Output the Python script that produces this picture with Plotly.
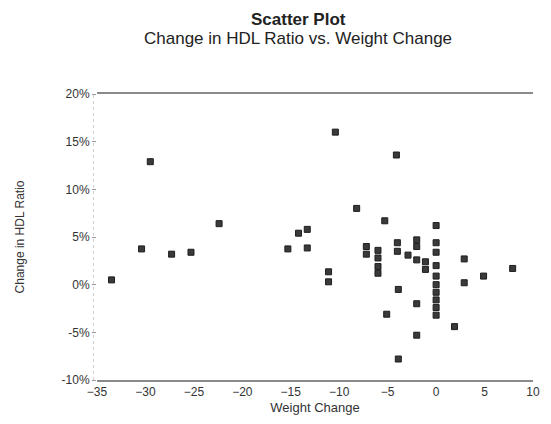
import plotly.graph_objects as go

weight_change = [-33.5, -30.4, -29.5, -27.3, -25.3, -22.4, -15.3, -14.2, -13.3, -13.3,
                 -11.1, -11.1, -10.4, -8.2, -7.2, -7.2, -6.0, -6.0, -6.0, -6.0,
                 -5.3, -5.1, -4.1, -4.0, -4.0, -3.9, -3.9, -2.9, -2.0, -2.0,
                 -2.0, -2.0, -2.0, -1.1, -1.1, 0.0, 0.0, 0.0, 0.0, 0.0,
                 0.0, 0.0, 0.0, 0.0, 0.0, 1.9, 2.9, 2.9, 4.9, 7.9]
hdl_change = [0.5, 3.75, 12.9, 3.2, 3.4, 6.4, 3.75, 5.4, 5.8, 3.85,
              1.35, 0.3, 16.0, 8.0, 4.0, 3.2, 3.6, 2.8, 1.9, 1.2,
              6.7, -3.1, 13.6, 4.4, 3.5, -0.5, -7.8, 3.1, 4.7, 4.0,
              2.6, -2.0, -5.3, 2.4, 1.6, 6.2, 4.4, 3.4, 2.0, 0.9,
              0.0, -0.8, -1.6, -2.4, -3.2, -4.4, 2.7, 0.2, 0.9, 1.7]

x_ticks = [-35, -30, -25, -20, -15, -10, -5, 0, 5, 10]
y_ticks = [-10, -5, 0, 5, 10, 15, 20]
y_tick_labels = [f"{v}%" for v in y_ticks]

fig = go.Figure()
fig.add_trace(go.Scatter(
    x=weight_change, y=hdl_change, mode="markers",
    marker=dict(symbol="square", size=6, color="#3a3a3a",
                line=dict(color="#1e1e1e", width=1)),
    showlegend=False,
))

fig.add_shape(type="line", xref="paper", yref="y", x0=-0.008, x1=-0.008, y0=-10, y1=20,
              line=dict(color="#d0d0d0", width=1, dash="dot"))

fig.add_annotation(text="<b>Scatter Plot</b>", xref="paper", yref="paper",
                   x=0.462, y=1.0, yshift=75, xanchor="center", yanchor="middle",
                   showarrow=False, font=dict(size=17, color="#222222"))
fig.add_annotation(text="Change in HDL Ratio vs. Weight Change", xref="paper", yref="paper",
                   x=0.462, y=1.0, yshift=56, xanchor="center", yanchor="middle",
                   showarrow=False, font=dict(size=17, color="#222222"))

fig.update_layout(
    width=543, height=416,
    margin=dict(l=86, r=11, t=86, b=41),
    paper_bgcolor="white", plot_bgcolor="white",
    font=dict(family="Liberation Sans, Arial, sans-serif", color="#333333", size=12),
    xaxis=dict(
        range=[-35, 10], tickvals=x_ticks, showgrid=False, zeroline=False,
        showline=True, mirror=True, linecolor="#8a8a8a", linewidth=1.5,
        ticks="", tickfont=dict(size=12, color="#333333"),
        title=dict(text="Weight Change", font=dict(size=13, color="#333333"), standoff=5),
    ),
    yaxis=dict(
        range=[-10, 20], tickvals=y_ticks, ticktext=y_tick_labels,
        showgrid=False, zeroline=False, showline=False,
        ticks="outside", ticklen=4, tickcolor="#999999",
        tickfont=dict(size=12, color="#333333"),
        title=dict(text="Change in HDL Ratio", font=dict(size=12, color="#333333"), standoff=34),
    ),
)

fig.write_html("out.html")
